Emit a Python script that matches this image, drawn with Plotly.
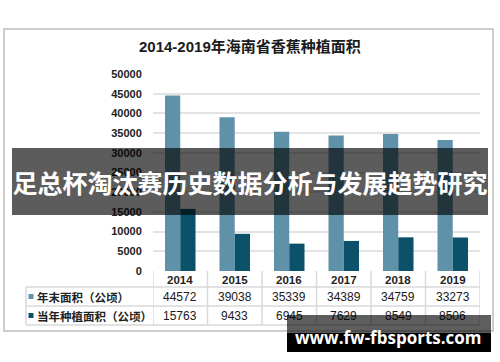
import plotly.graph_objects as go

# ---- data ----
years = ['2014', '2015', '2016', '2017', '2018', '2019']
year_end_area = [44572, 39038, 35339, 34389, 34759, 33273]
planted_area = [15763, 9433, 6945, 7629, 8549, 8506]
series_names = ['年末面积（公顷）', '当年种植面积（公顷）']
y_ticks = [0, 5000, 10000, 15000, 20000, 25000, 30000, 35000, 40000, 45000, 50000]
title_text = '2014-2019年海南省香蕉种植面积'
banner_text = '足总杯淘汰赛历史数据分析与发展趋势研究'
watermark_text = 'www.fw-fbsports.com'

# ---- layout helpers ----
W, H = 500, 362
L, R, T, B = 153, 20, 74, 91
PW, PH = W - L - R, H - T - B


def px(x):
    return (x - L) / PW


def py(y):
    return (H - B - y) / PH


FONT = 'Liberation Sans, Arial, Noto Sans CJK SC, sans-serif'
CJK = 'Noto Sans CJK SC, Liberation Sans, sans-serif'
TXT = '#222222'
LINE = '#d9d9d9'
colors = ['#5f92a9', '#0b5169']
series_vals = [year_end_area, planted_area]

fig = go.Figure()
for name, vals, c in zip(series_names, series_vals, colors):
    fig.add_bar(x=years, y=vals, name=name, marker_color=c, marker_line_width=0)

fig.update_layout(
    width=W, height=H,
    margin=dict(l=L, r=R, t=T, b=B, autoexpand=False),
    barmode='group', bargap=0.44, bargroupgap=0,
    showlegend=False,
    plot_bgcolor='white', paper_bgcolor='white',
)
fig.update_xaxes(type='category', showticklabels=False, showgrid=False,
                 zeroline=False, showline=False, range=[-0.5, 5.5])
fig.update_yaxes(range=[0, 50000], tickvals=y_ticks,
                 ticktext=[f'<b>{v}</b>' for v in y_ticks],
                 gridcolor='#e3e3e3', gridwidth=1.5, zeroline=False, showline=False,
                 ticks='outside', ticklen=8, tickcolor='rgba(0,0,0,0)',
                 tickfont=dict(family=FONT, size=11, color=TXT))

shapes = []
# outer chart border
shapes.append(dict(type='rect', xref='paper', yref='paper',
                   x0=px(4), x1=px(493), y0=py(29), y1=py(331),
                   line=dict(color='#bdbdbd', width=1.5), fillcolor='rgba(0,0,0,0)'))
# table horizontal lines
for yy in [287, 306, 325]:
    shapes.append(dict(type='line', xref='paper', yref='paper',
                       x0=px(26), x1=1, y0=py(yy), y1=py(yy),
                       line=dict(color=LINE, width=1.5)))
# table vertical lines
for i in range(len(years) + 1):
    shapes.append(dict(type='line', xref='x', yref='paper',
                       x0=i - 0.5, x1=i - 0.5, y0=py(271), y1=py(325),
                       line=dict(color=LINE, width=1.5)))
shapes.append(dict(type='line', xref='paper', yref='paper',
                   x0=px(26), x1=px(26), y0=py(287), y1=py(325),
                   line=dict(color=LINE, width=1.5)))

row_centers = [296.5, 315.5]
for yc, c in zip(row_centers, colors):
    shapes.append(dict(type='rect', xref='paper', yref='paper',
                       x0=px(28.5), x1=px(33.5), y0=py(yc - 2.5), y1=py(yc + 2.5),
                       line=dict(width=0), fillcolor=c))

ann = []
# title
ann.append(dict(text=f'<b>{title_text}</b>', xref='paper', yref='paper',
                x=px(250), y=py(47), xanchor='center', yanchor='middle',
                showarrow=False, font=dict(family=FONT, size=15, color='#1a1a1a')))
# year header row
for i, yr in enumerate(years):
    ann.append(dict(text=f'<b>{yr}</b>', xref='x', yref='paper', x=i, y=py(279.5),
                    xanchor='center', yanchor='middle', showarrow=False,
                    font=dict(family=FONT, size=11.5, color=TXT)))
# value rows + row labels
for name, vals, yc in zip(series_names, series_vals, row_centers):
    ann.append(dict(text=f'<b>{name}</b>', xref='paper', yref='paper', x=px(34.5), y=py(yc),
                    xanchor='left', yanchor='middle', showarrow=False,
                    font=dict(family=CJK, size=11.5, color=TXT)))
    for i, v in enumerate(vals):
        ann.append(dict(text=f'{v}', xref='x', yref='paper', x=i, y=py(yc),
                        xanchor='center', yanchor='middle', showarrow=False,
                        font=dict(family=FONT, size=12, color='#1a1a1a')))

# banner overlay
ann.append(dict(text=f'<b>{banner_text}</b>', xref='paper', yref='paper',
                x=px(12), y=py(148), xanchor='left', yanchor='top',
                width=476, height=67, bgcolor='rgba(0,0,0,0.64)',
                borderpad=0, borderwidth=0, showarrow=False,
                font=dict(family=CJK, size=25, color='white')))
# watermark boxes
ann.append(dict(text=' ', xref='paper', yref='paper', x=px(287), y=py(315),
                xanchor='left', yanchor='top', width=204, height=18,
                bgcolor='rgba(0,0,0,0.63)', borderpad=0, borderwidth=0, showarrow=False))
ann.append(dict(text=' ', xref='paper', yref='paper', x=px(287), y=py(333),
                xanchor='left', yanchor='top', width=204, height=19,
                bgcolor='black', borderpad=0, borderwidth=0, showarrow=False))
ann.append(dict(text=f'<b>{watermark_text}</b>', xref='paper', yref='paper',
                x=px(388), y=py(337), xanchor='center', yanchor='middle', showarrow=False,
                font=dict(family='Open Sans, DejaVu Sans, sans-serif', size=17, color='white')))

fig.update_layout(shapes=shapes, annotations=ann)
fig.write_html('out.html', config={'displayModeBar': False},
               post_script="document.body.style.margin='0px';")
